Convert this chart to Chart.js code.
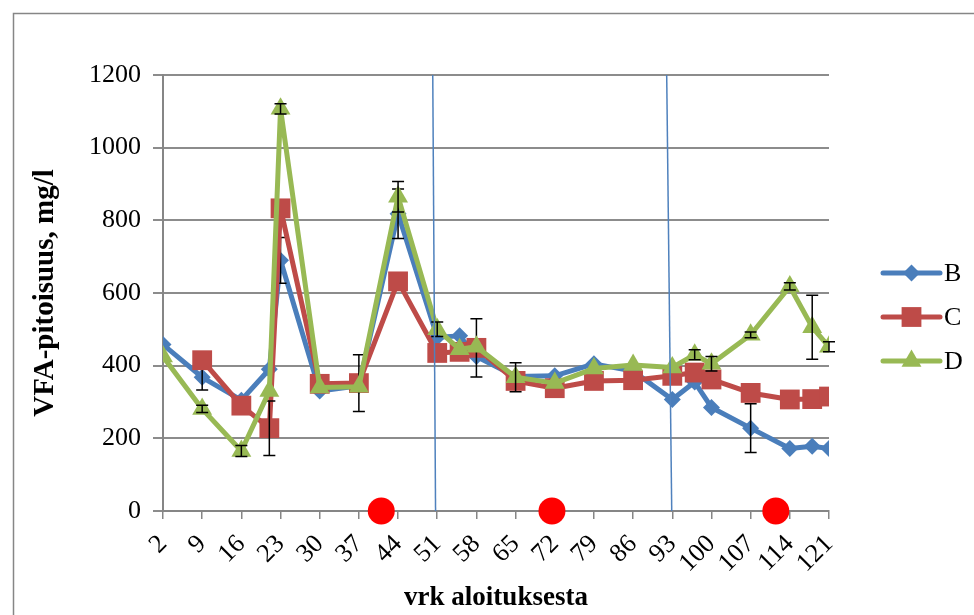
<!DOCTYPE html>
<html>
<head>
<meta charset="utf-8">
<script src="https://cdn.jsdelivr.net/npm/chart.js@4.4.1/dist/chart.umd.min.js"></script>
<style>
  html, body { margin: 0; padding: 0; background: #fff; }
  #wrap { width: 974px; height: 615px; }
</style>
</head>
<body>
<div id="wrap"><canvas id="chart" width="974" height="615"></canvas></div>
<script>
// days from start (x values) and tick labels
var days = [2, 9, 16, 21, 23, 30, 37, 44, 51, 55, 58, 65, 72, 79, 86, 93, 97, 100, 107, 114, 118, 121];
var xTicks = [2, 9, 16, 23, 30, 37, 44, 51, 58, 65, 72, 79, 86, 93, 100, 107, 114, 121];

// VFA mg/l
var seriesB = [458, 368, 305, 390, 690, 330, 345, 818, 478, 482, 425, 370, 372, 405, 385, 307, 355, 285, 228, 172, 178, 172];
var seriesC = [null, 415, 290, 228, 833, 350, 352, 632, 435, 438, 449, 358, 338, 358, 360, 372, 381, 362, 325, 307, 308, 315];
var seriesD = [425, 281, 165, 330, 1107, 340, 342, 865, 500, 445, 452, 368, 352, 392, 402, 395, 430, 405, 485, 618, 506, 452];

// error bars (+/-)
var errB = [null, 35, null, null, 63, null, null, 68, null, null, null, null, null, null, null, null, null, null, 67, null, null, null];
var errC = [null, null, null, 75, null, null, 78, null, null, null, 80, null, null, null, null, null, null, null, null, null, null, null];
var errD = [null, 10, 15, null, 14, null, null, 42, 20, null, null, 40, null, null, null, null, 14, 20, 8, 10, 88, 14];

// red dots on the axis and the two period dividers
var dotDays = [41, 71.5, 111.5];
var dividerTop = [50.2, 92.0];
var dividerBottom = [50.7, 92.9];

var serif = "'Liberation Serif', 'Times New Roman', serif";
Chart.defaults.font.family = serif;
Chart.defaults.color = '#000';

function pts(vals) {
  return days.map(function (d, i) { return { x: d, y: vals[i] }; });
}

var datasets = [
  { label: 'B', data: pts(seriesB), errors: errB, borderColor: '#4a7ebb', backgroundColor: '#4a7ebb',
    pointStyle: 'rectRot', pointRadius: 8.5, order: 4, legend: true },
  { label: 'C', data: pts(seriesC), errors: errC, borderColor: '#be4b48', backgroundColor: '#be4b48',
    pointStyle: 'rect', pointRadius: 14, order: 3, legend: true },
  { label: 'D', data: pts(seriesD), errors: errD, borderColor: '#98b954', backgroundColor: '#98b954',
    pointStyle: 'triangle', pointRadius: 11.5, order: 2, legend: true }
];
datasets.forEach(function (ds) {
  ds.borderWidth = 5;
  ds.pointBorderWidth = 0;
  ds.pointBackgroundColor = ds.borderColor;
  ds.borderJoinStyle = 'round';
  ds.borderCapStyle = 'round';
  ds.tension = 0;
});

for (var k = 0; k < dividerTop.length; k++) {
  datasets.push({
    label: 'div' + k,
    data: [{ x: dividerTop[k], y: 1200 }, { x: dividerBottom[k], y: 0 }],
    borderColor: '#4f81bd', borderWidth: 1.5, pointRadius: 0, order: 1, clip: false
  });
}

datasets.push({
  label: 'dots',
  data: dotDays.map(function (d) { return { x: d, y: 0 }; }),
  showLine: false, pointRadius: 13.5, pointStyle: 'circle',
  pointBackgroundColor: '#ff0000', pointBorderWidth: 0, order: 0, clip: false
});

var frame = {
  id: 'frame',
  beforeDraw: function (chart) {
    var ctx = chart.ctx;
    ctx.save();
    ctx.fillStyle = '#fff';
    ctx.fillRect(0, 0, chart.width, chart.height);
    ctx.strokeStyle = '#868686';
    ctx.lineWidth = 1.5;
    ctx.strokeRect(13.5, 13.5, 1000, 700);
    ctx.restore();
  }
};

var errorBars = {
  id: 'errorBars',
  afterDatasetDraw: function (chart, args) {
    var ds = chart.data.datasets[args.index];
    if (!ds.errors) return;
    var ctx = chart.ctx, ys = chart.scales.y, xs = chart.scales.x;
    ctx.save();
    ctx.strokeStyle = '#000';
    ctx.lineWidth = 1.5;
    ds.data.forEach(function (p, i) {
      var e = ds.errors[i];
      if (e == null || p.y == null) return;
      var x = xs.getPixelForValue(p.x);
      var y1 = ys.getPixelForValue(p.y + e), y2 = ys.getPixelForValue(p.y - e);
      ctx.beginPath();
      ctx.moveTo(x, y1); ctx.lineTo(x, y2);
      ctx.moveTo(x - 6, y1); ctx.lineTo(x + 6, y1);
      ctx.moveTo(x - 6, y2); ctx.lineTo(x + 6, y2);
      ctx.stroke();
    });
    ctx.restore();
  }
};

var sideLegend = {
  id: 'sideLegend',
  afterDraw: function (chart) {
    var ctx = chart.ctx;
    var x0 = chart.chartArea.right + 54;
    var y = 273;
    ctx.save();
    chart.data.datasets.forEach(function (ds) {
      if (!ds.legend) return;
      ctx.strokeStyle = ds.borderColor;
      ctx.fillStyle = ds.borderColor;
      ctx.lineWidth = 5;
      ctx.lineCap = 'round';
      ctx.beginPath();
      ctx.moveTo(x0, y); ctx.lineTo(x0 + 57, y);
      ctx.stroke();
      Chart.helpers.drawPoint(ctx, { pointStyle: ds.pointStyle, radius: ds.pointRadius, rotation: 0, borderWidth: 0 }, x0 + 28.5, y);
      ctx.fillStyle = '#000';
      ctx.font = '26px ' + serif;
      ctx.textBaseline = 'middle';
      ctx.textAlign = 'left';
      ctx.fillText(ds.label, x0 + 61, y + 1);
      y += 44;
    });
    ctx.restore();
  }
};

new Chart(document.getElementById('chart'), {
  type: 'line',
  data: { datasets: datasets },
  plugins: [frame, errorBars, sideLegend],
  options: {
    responsive: false,
    animation: false,
    events: [],
    layout: { padding: { left: 0, right: 145, top: 75, bottom: 0 } },
    plugins: { legend: { display: false }, tooltip: { enabled: false } },
    scales: {
      x: {
        type: 'linear',
        min: 2,
        max: 121,
        afterBuildTicks: function (scale) {
          scale.ticks = xTicks.map(function (v) { return { value: v }; });
        },
        afterFit: function (scale) { scale.height = 104; },
        ticks: { font: { size: 26 }, minRotation: 45, maxRotation: 45, padding: 10, autoSkip: false,
          callback: function (v) { return String(v); } },
        grid: { drawOnChartArea: false, drawTicks: true, tickLength: 8, color: '#868686', lineWidth: 1.5 },
        border: { display: true, color: '#868686', width: 2 },
        title: { display: true, text: 'vrk aloituksesta', font: { size: 27, weight: 'bold' }, padding: { top: 0, bottom: 1 } }
      },
      y: {
        min: 0,
        max: 1200,
        afterFit: function (scale) { scale.width = 163; },
        ticks: { stepSize: 200, font: { size: 26 }, padding: 12,
          callback: function (v) { return String(v); } },
        grid: { color: '#8c8c8c', lineWidth: 2, tickLength: 10 },
        border: { display: true, color: '#868686', width: 2 },
        title: { display: true, text: 'VFA-pitoisuus, mg/l', font: { size: 29, weight: 'bold' }, padding: { top: 28, bottom: 0 } }
      }
    }
  }
});
</script>
</body>
</html>
